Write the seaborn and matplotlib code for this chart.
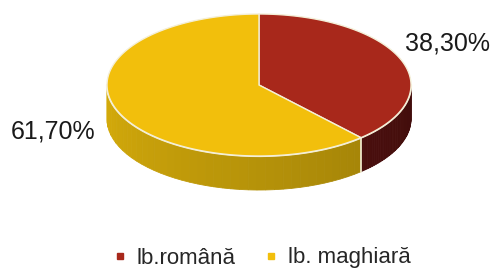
"""Pie 3D: limba de predare (ro / hu)."""
import numpy as np
import matplotlib
matplotlib.use("Agg")
import matplotlib.pyplot as plt
import seaborn as sns
from matplotlib.patches import Polygon
from matplotlib.lines import Line2D

# -----------------------------------------------------------------------------
# Datos
# -----------------------------------------------------------------------------
categorias = ["lb.română", "lb. maghiară"]
valores = [38.30, 61.70]
etiquetas = ["38,30%", "61,70%"]
colores_top = ["#A8281B", "#F2BF0C"]
colores_lado = ["#5A1210", "#CCA40A"]

sns.set_theme(style="white")
plt.rcParams["font.family"] = ["Liberation Sans", "DejaVu Sans"]

W, H = 493, 271
fig = plt.figure(figsize=(W / 100, H / 100), dpi=100)
ax = fig.add_axes([0, 0, 1, 1])
ax.set_xlim(0, W)
ax.set_ylim(H, 0)
ax.axis("off")

# geometría de la elipse (coordenadas de píxel)
cx, cy, a, b, prof = 259, 85, 152, 71, 34


def punto(t, dy=0.0):
    return cx + a * np.cos(t), cy - b * np.sin(t) + dy


# ángulos: primer sector empieza a las 12 y gira en sentido horario
fracs = np.array(valores) / sum(valores)
inicio = np.pi / 2
sectores = []
for f in fracs:
    fin = inicio - 2 * np.pi * f
    sectores.append((fin, inicio))
    inicio = fin

# -----------------------------------------------------------------------------
# Caras laterales (solo la mitad frontal, ángulos entre pi y 2pi)
# -----------------------------------------------------------------------------
for (t0, t1), col in zip(sectores, colores_lado):
    ts = np.linspace(t0, t1, 400)
    ts_mod = np.mod(ts, 2 * np.pi)
    vis = ts_mod >= np.pi
    if not vis.any():
        continue
    tv = np.sort(ts_mod[vis])
    base = np.array(matplotlib.colors.to_rgb(col))
    n_seg = 40
    bordes = np.linspace(tv[0], tv[-1], n_seg + 1)
    for k in range(n_seg):
        tt = np.linspace(bordes[k], bordes[k + 1], 6)
        arriba = [punto(t) for t in tt]
        abajo = [punto(t, prof) for t in tt[::-1]]
        tm = 0.5 * (bordes[k] + bordes[k + 1])
        # sombreado: más claro a la izquierda, más oscuro a la derecha
        shade = 1.05 - 0.32 * (tm - np.pi) / np.pi
        c = np.clip(base * shade, 0, 1)
        ax.add_patch(Polygon(arriba + abajo, closed=True, facecolor=c,
                             edgecolor=c, linewidth=0.6))

# separación vertical entre sectores en la cara frontal
for t0, _ in sectores:
    tm = np.mod(t0, 2 * np.pi)
    if tm >= np.pi:
        x0, y0 = punto(tm)
        ax.plot([x0, x0], [y0, y0 + prof], color="#F4EFD8", lw=1.2)

# borde inferior de la cara superior
tt = np.linspace(np.pi, 2 * np.pi, 200)
xs, ys = zip(*[punto(t) for t in tt])
ax.plot(xs, ys, color="#F4EFD8", lw=1.6, zorder=3)

# -----------------------------------------------------------------------------
# Cara superior
# -----------------------------------------------------------------------------
for (t0, t1), col in zip(sectores, colores_top):
    tt = np.linspace(t0, t1, 200)
    pts = [(cx, cy)] + [punto(t) for t in tt]
    ax.add_patch(Polygon(pts, closed=True, facecolor=col, edgecolor="#F4EFD8",
                         linewidth=1.0, zorder=4))

# etiquetas de datos
ax.text(447, 44, etiquetas[0], ha="center", va="center", fontsize=18,
        color="#1a1a1a")
ax.text(53, 132, etiquetas[1], ha="center", va="center", fontsize=18,
        color="#1a1a1a")

# leyenda
handles = [Line2D([], [], marker="s", linestyle="none", markersize=5,
                  markerfacecolor=c, markeredgecolor=c) for c in colores_top]
ax.legend(handles, categorias, loc="center", bbox_to_anchor=(262 / W, 1 - 258 / H),
          ncol=2, frameon=False, fontsize=16, handlelength=0.6,
          handletextpad=0.45, columnspacing=1.3)

fig.savefig("out.png", dpi=100)
